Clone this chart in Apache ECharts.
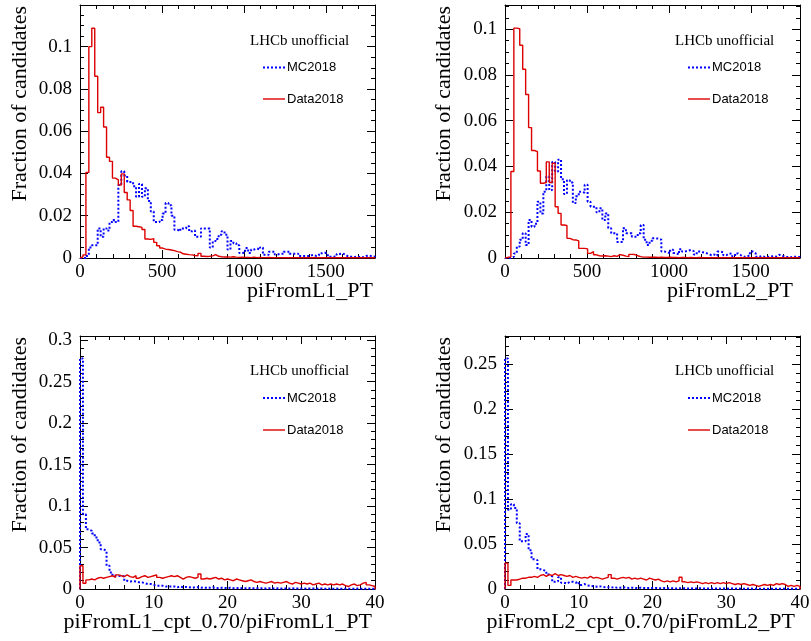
<!DOCTYPE html>
<html><head><meta charset="utf-8">
<script src="https://cdn.jsdelivr.net/npm/echarts@6/dist/echarts.min.js"></script>
<style>html,body{margin:0;padding:0;background:#fff}#c{width:811px;height:641px}</style>
</head><body><div id="c"></div>
<script>
// ---- data ----
const ptRange = [0, 1800];
const ratioRange = [0, 40];
const ptTickStep = 500;
const ratioTickStep = 10;

const mcL1PT = [0,0,0.0010,0.0050,0.0060,0.0060,0.0140,0.0100,0.0140,0.0130,
 0.0170,0.0180,0.0170,0.0345,0.0410,0.0390,0.0360,0.0360,0.0340,0.0290,
 0.0350,0.0290,0.0330,0.0270,0.0220,0.0170,0.0170,0.0180,0.0210,0.0260,
 0.0250,0.0200,0.0134,0.0126,0.0140,0.0140,0.0150,0.0126,0.0130,0.0100,
 0.0100,0.0140,0.0140,0.0140,0.0050,0.0080,0.0090,0.0110,0.0126,0.0110,
 0.0040,0.0080,0.0070,0.0060,0.0024,0.0025,0.0047,0.0024,0.0040,0.0045,
 0.0040,0.0050,0.0015,0.0015,0.0030,0.0030,0.0017,0.0020,0.0020,0.0030,
 0.0030,0.0020,0.0020,0.0020,0.0010,0.0010,0.0010,0.0010,0.0015,0.0010,
 0.0012,0.0022,0.0025,0.0020,0.0006,0.0006,0.0008,0.0019,0.0022,0.0015,
 0.0006,0.0006,0.0005,0.0006,0.0005,0.0004,0.0010,0.0012,0.0008,0.0006];

const dataL1PT = [0.0005,0.0015,0.0405,0.1000,0.1087,0.0860,0.0688,0.0713,0.0620,0.0477,
 0.0457,0.0378,0.0370,0.0345,0.0398,0.0310,0.0275,0.0225,0.0150,0.0148,
 0.0145,0.0135,0.0090,0.0088,0.0092,0.0074,0.0058,0.0047,0.0042,0.0040,
 0.0038,0.0035,0.0030,0.0028,0.0020,0.0018,0.0016,0.0015,0.0012,0.0010,
 0.0022,0.0008,0.0007,0.0008,0.0010,0.0016,0.0008,0.0006,0.0005,0.0005,
 0.0004,0.0006,0.0004,0.0003,0.0004,0.0003,0.0003,0.0002,0.0004,0.0002,
 0.0003,0.0002,0.0002,0.0003,0.0002,0.0001,0.0002,0.0002,0.0001,0.0002,
 0.0001,0.0002,0.0001,0.0001,0.0002,0.0001,0.0001,0.0001,0.0002,0.0001,
 0.0001,0.0001,0.0001,0.0002,0.0001,0.0001,0.0001,0.0001,0.0001,0.0001,
 0.0001,0.0001,0.0001,0.0001,0.0001,0.0001,0.0001,0.0001,0.0001,0.0001];

const mcL2PT = [0,0,0.0005,0.0020,0.0050,0.0080,0.0108,0.0057,0.0166,0.0137,
 0.0150,0.0246,0.0195,0.0290,0.0356,0.0297,0.0420,0.0378,0.0430,0.0344,
 0.0280,0.0340,0.0330,0.0240,0.0270,0.0290,0.0285,0.0320,0.0246,0.0224,
 0.0224,0.0200,0.0217,0.0166,0.0195,0.0130,0.0108,0.0108,0.0070,0.0070,
 0.0130,0.0108,0.0108,0.0093,0.0093,0.0108,0.0144,0.0080,0.0057,0.0075,
 0.0086,0.0085,0.0080,0.0028,0.0026,0.0020,0.0036,0.0022,0.0015,0.0038,
 0.0028,0.0032,0.0035,0.0030,0.0015,0.0028,0.0025,0.0022,0.0018,0.0012,
 0.0015,0.0010,0.0028,0.0025,0.0012,0.0020,0.0018,0.0008,0.0020,0.0012,
 0.0005,0.0008,0.0010,0.0028,0.0020,0.0005,0.0008,0.0005,0.0004,0.0006,
 0.0008,0.0006,0.0014,0.0010,0.0005,0.0004,0.0003,0.0006,0.0005,0.0004];

const dataL2PT = [0.0003,0.0005,0.0378,0.1005,0.1002,0.0930,0.0825,0.0715,0.0570,0.0470,
 0.0465,0.0380,0.0327,0.0330,0.0420,0.0330,0.0414,0.0224,0.0195,0.0144,
 0.0142,0.0086,0.0080,0.0079,0.0075,0.0042,0.0042,0.0040,0.0020,0.0028,
 0.0014,0.0010,0.0009,0.0010,0.0008,0.0006,0.0010,0.0007,0.0015,0.0012,
 0.0008,0.0006,0.0016,0.0015,0.0010,0.0006,0.0004,0.0004,0.0003,0.0004,
 0.0003,0.0002,0.0003,0.0002,0.0002,0.0003,0.0002,0.0002,0.0001,0.0002,
 0.0002,0.0001,0.0002,0.0001,0.0001,0.0002,0.0001,0.0001,0.0001,0.0001,
 0.0001,0.0001,0.0001,0.0001,0.0001,0.0001,0.0001,0.0001,0.0001,0.0001,
 0.0001,0.0001,0.0001,0.0001,0.0001,0.0001,0.0001,0.0001,0.0001,0.0001,
 0.0001,0.0001,0.0001,0.0001,0.0001,0.0001,0.0001,0.0001,0.0001,0.0001];

const mcL1Ratio = [0.2780,0.0900,0.0720,0.0700,0.0670,0.0620,0.0560,0.0480,0.0460,0.0280,
 0.0200,0.0160,0.0155,0.0160,0.0150,0.0100,0.0090,0.0095,0.0090,0.0080,
 0.0080,0.0070,0.0060,0.0060,0.0050,0.0040,0.0040,0.0040,0.0030,0.0030,
 0.0030,0.0030,0.0020,0.0030,0.0020,0.0025,0.0020,0.0015,0.0020,0.0020,
 0.0015,0.0020,0.0012,0.0015,0.0020,0.0012,0.0010,0.0015,0.0012,0.0010,
 0.0015,0.0010,0.0008,0.0012,0.0010,0.0008,0.0010,0.0012,0.0008,0.0010,
 0.0008,0.0010,0.0006,0.0008,0.0010,0.0006,0.0008,0.0006,0.0008,0.0005,
 0.0006,0.0008,0.0005,0.0006,0.0005,0.0006,0.0004,0.0006,0.0005,0.0004,
 0.0005,0.0006,0.0004,0.0005,0.0004,0.0003,0.0005,0.0004,0.0003,0.0004,
 0.0003,0.0004,0.0003,0.0005,0.0003,0.0004,0.0003,0.0002,0.0004,0.0003];

const dataL1Ratio = [0.0280,0.0070,0.0110,0.0120,0.0110,0.0130,0.0140,0.0130,0.0140,0.0150,
 0.0160,0.0140,0.0170,0.0160,0.0150,0.0170,0.0150,0.0140,0.0160,0.0130,
 0.0150,0.0160,0.0140,0.0150,0.0160,0.0170,0.0140,0.0130,0.0140,0.0150,
 0.0160,0.0150,0.0160,0.0140,0.0120,0.0140,0.0150,0.0140,0.0130,0.0140,
 0.0180,0.0120,0.0130,0.0120,0.0130,0.0140,0.0120,0.0130,0.0110,0.0120,
 0.0110,0.0100,0.0120,0.0110,0.0100,0.0090,0.0100,0.0110,0.0090,0.0080,
 0.0090,0.0080,0.0070,0.0080,0.0090,0.0070,0.0080,0.0070,0.0080,0.0090,
 0.0070,0.0060,0.0080,0.0070,0.0060,0.0070,0.0060,0.0070,0.0050,0.0060,
 0.0070,0.0050,0.0060,0.0050,0.0060,0.0050,0.0060,0.0050,0.0060,0.0040,
 0.0030,0.0050,0.0060,0.0040,0.0050,0.0070,0.0080,0.0050,0.0040,0.0030];

const mcL2Ratio = [0.2560,0.0880,0.0940,0.0900,0.0730,0.0530,0.0530,0.0610,0.0430,0.0330,
 0.0320,0.0220,0.0210,0.0200,0.0160,0.0140,0.0080,0.0085,0.0130,0.0070,
 0.0060,0.0080,0.0080,0.0070,0.0080,0.0045,0.0055,0.0040,0.0035,0.0030,
 0.0025,0.0030,0.0025,0.0020,0.0020,0.0015,0.0020,0.0015,0.0015,0.0020,
 0.0015,0.0012,0.0015,0.0012,0.0010,0.0015,0.0012,0.0010,0.0012,0.0010,
 0.0012,0.0010,0.0008,0.0010,0.0008,0.0010,0.0008,0.0006,0.0008,0.0010,
 0.0008,0.0006,0.0008,0.0006,0.0005,0.0008,0.0006,0.0005,0.0006,0.0005,
 0.0006,0.0005,0.0004,0.0006,0.0005,0.0004,0.0005,0.0004,0.0005,0.0004,
 0.0003,0.0004,0.0005,0.0004,0.0003,0.0004,0.0003,0.0004,0.0003,0.0003,
 0.0004,0.0003,0.0002,0.0003,0.0004,0.0003,0.0002,0.0003,0.0002,0.0003];

const dataL2Ratio = [0.0287,0.0040,0.0100,0.0100,0.0110,0.0120,0.0120,0.0130,0.0130,0.0140,
 0.0130,0.0150,0.0160,0.0140,0.0160,0.0150,0.0170,0.0150,0.0160,0.0150,
 0.0140,0.0150,0.0130,0.0140,0.0130,0.0120,0.0130,0.0120,0.0140,0.0120,
 0.0130,0.0120,0.0110,0.0120,0.0130,0.0160,0.0120,0.0110,0.0120,0.0130,
 0.0120,0.0130,0.0110,0.0120,0.0110,0.0120,0.0110,0.0100,0.0120,0.0110,
 0.0100,0.0110,0.0090,0.0080,0.0090,0.0080,0.0090,0.0080,0.0090,0.0130,
 0.0080,0.0070,0.0080,0.0070,0.0080,0.0070,0.0060,0.0070,0.0060,0.0070,
 0.0060,0.0070,0.0060,0.0070,0.0060,0.0070,0.0060,0.0050,0.0060,0.0050,
 0.0060,0.0050,0.0040,0.0050,0.0040,0.0030,0.0040,0.0050,0.0040,0.0050,
 0.0040,0.0060,0.0050,0.0060,0.0050,0.0030,0.0040,0.0030,0.0040,0.0030];

const xTitles = ['piFromL1_PT', 'piFromL2_PT', 'piFromL1_cpt_0.70/piFromL1_PT', 'piFromL2_cpt_0.70/piFromL2_PT'];
const yTitle = 'Fraction of candidates';
const tagText = 'LHCb unofficial';
const seriesNames = ['MC2018', 'Data2018'];

// ---- layout ----
const SERIF = '"Liberation Serif","Times New Roman",serif';
const SANS = '"Liberation Sans",Arial,sans-serif';
const BLUE = '#0000ff', RED = '#dd0000';

const panels = [
  {mc: mcL1PT, data: dataL1PT, range: ptRange, xStep: ptTickStep, ymax: 0.1197, yStep: 0.02, yMinor: 4,
   grid: {left: 80, top: 5, width: 295, height: 253}, ytx: 20, xtRight: 373, xtY: 291, tagX: 250, tagY: 41, legX: 263, legY: [67.5, 99]},
  {mc: mcL2PT, data: dataL2PT, range: ptRange, xStep: ptTickStep, ymax: 0.1106, yStep: 0.02, yMinor: 4,
   grid: {left: 505, top: 5, width: 295, height: 253}, ytx: 444, xtRight: 793, xtY: 291, tagX: 675, tagY: 41, legX: 688, legY: [67.5, 99]},
  {mc: mcL1Ratio, data: dataL1Ratio, range: ratioRange, xStep: ratioTickStep, ymax: 0.305, yStep: 0.05, yMinor: 5,
   grid: {left: 80, top: 336, width: 295, height: 253}, ytx: 20, xtRight: 372, xtY: 622.5, tagX: 250, tagY: 371.5, legX: 263, legY: [398, 430]},
  {mc: mcL2Ratio, data: dataL2Ratio, range: ratioRange, xStep: ratioTickStep, ymax: 0.281, yStep: 0.05, yMinor: 5,
   grid: {left: 505, top: 336, width: 295, height: 253}, ytx: 444, xtRight: 795, xtY: 622.5, tagX: 675, tagY: 371.5, legX: 688, legY: [398, 430]}
];

function histPoints(values, range) {
  const w = (range[1] - range[0]) / values.length;
  const pts = [[range[0], 0]];
  values.forEach((v, i) => pts.push([range[0] + i * w, v]));
  pts.push([range[1], values[values.length - 1]]);
  pts.push([range[1], 0]);
  return pts;
}
function multipleFormatter(step) {
  return function (v) {
    const r = v / step;
    if (Math.abs(r - Math.round(r)) > 1e-6) return '';
    return String(parseFloat(v.toFixed(6)));
  };
}
function axisBase(extra) {
  return Object.assign({
    type: 'value',
    axisLine: {show: true, onZero: false, lineStyle: {color: '#000', width: 1}},
    axisTick: {show: true, inside: true, length: 8, lineStyle: {color: '#000', width: 1}},
    minorTick: {show: true, length: 4, lineStyle: {color: '#000', width: 1}},
    splitLine: {show: false},
    minorSplitLine: {show: false}
  }, extra);
}

const grids = [], xAxes = [], yAxes = [], series = [], graphics = [];
panels.forEach((p, i) => {
  grids.push(Object.assign({outerBoundsMode: 'none', containLabel: false}, p.grid));
  const xLabel = {show: true, fontFamily: SERIF, fontSize: 19, color: '#000', margin: 5, formatter: multipleFormatter(p.xStep)};
  const yLabel = {show: true, fontFamily: SERIF, fontSize: 19, color: '#000', margin: 8, formatter: multipleFormatter(p.yStep)};
  xAxes.push(axisBase({gridIndex: i, position: 'bottom', min: p.range[0], max: p.range[1], interval: p.xStep,
    minorTick: {show: true, splitNumber: 5, length: 4, lineStyle: {color: '#000'}}, axisLabel: xLabel}));
  xAxes.push(axisBase({gridIndex: i, position: 'top', min: p.range[0], max: p.range[1], interval: p.xStep,
    minorTick: {show: true, splitNumber: 5, length: 4, lineStyle: {color: '#000'}}, axisLabel: {show: false}}));
  yAxes.push(axisBase({gridIndex: i, position: 'left', min: 0, max: p.ymax, interval: p.yStep,
    minorTick: {show: true, splitNumber: p.yMinor, length: 4, lineStyle: {color: '#000'}}, axisLabel: yLabel}));
  yAxes.push(axisBase({gridIndex: i, position: 'right', min: 0, max: p.ymax, interval: p.yStep,
    minorTick: {show: true, splitNumber: p.yMinor, length: 4, lineStyle: {color: '#000'}}, axisLabel: {show: false}}));

  series.push({type: 'line', name: seriesNames[0], xAxisIndex: 2 * i, yAxisIndex: 2 * i, data: histPoints(p.mc, p.range),
    step: 'end', symbol: 'none', clip: true, lineStyle: {color: BLUE, width: 2, type: [2, 2]}, silent: true});
  series.push({type: 'line', name: seriesNames[1], xAxisIndex: 2 * i, yAxisIndex: 2 * i, data: histPoints(p.data, p.range),
    step: 'end', symbol: 'none', clip: true, lineStyle: {color: RED, width: 1.4}, silent: true});

  // axis titles
  graphics.push({type: 'text', x: p.ytx, y: p.grid.top + 1, rotation: Math.PI / 2,
    style: {text: yTitle, font: '22px ' + SERIF, fill: '#000', textAlign: 'right', align: 'right', textVerticalAlign: 'middle', verticalAlign: 'middle'}});
  graphics.push({type: 'text', x: p.xtRight, y: p.xtY,
    style: {text: xTitles[i], font: '22px ' + SERIF, fill: '#000', textAlign: 'right', align: 'right', textVerticalAlign: 'middle', verticalAlign: 'middle'}});
  // tag + legend
  graphics.push({type: 'text', x: p.tagX, y: p.tagY,
    style: {text: tagText, font: '15px ' + SERIF, fill: '#000', textAlign: 'left', align: 'left', textVerticalAlign: 'middle', verticalAlign: 'middle'}});
  graphics.push({type: 'line', shape: {x1: p.legX, y1: p.legY[0], x2: p.legX + 22, y2: p.legY[0]},
    style: {stroke: BLUE, lineWidth: 2, lineDash: [2, 2]}});
  graphics.push({type: 'text', x: p.legX + 24, y: p.legY[0],
    style: {text: seriesNames[0], font: '13px ' + SANS, fill: '#000', textAlign: 'left', align: 'left', textVerticalAlign: 'middle', verticalAlign: 'middle'}});
  graphics.push({type: 'line', shape: {x1: p.legX, y1: p.legY[1], x2: p.legX + 22, y2: p.legY[1]},
    style: {stroke: RED, lineWidth: 1.4}});
  graphics.push({type: 'text', x: p.legX + 24, y: p.legY[1],
    style: {text: seriesNames[1], font: '13px ' + SANS, fill: '#000', textAlign: 'left', align: 'left', textVerticalAlign: 'middle', verticalAlign: 'middle'}});
});

const chart = echarts.init(document.getElementById('c'), null, {renderer: 'canvas'});
chart.setOption({
  animation: false,
  backgroundColor: '#fff',
  grid: grids,
  xAxis: xAxes,
  yAxis: yAxes,
  series: series,
  graphic: graphics
});
</script>
</body></html>
